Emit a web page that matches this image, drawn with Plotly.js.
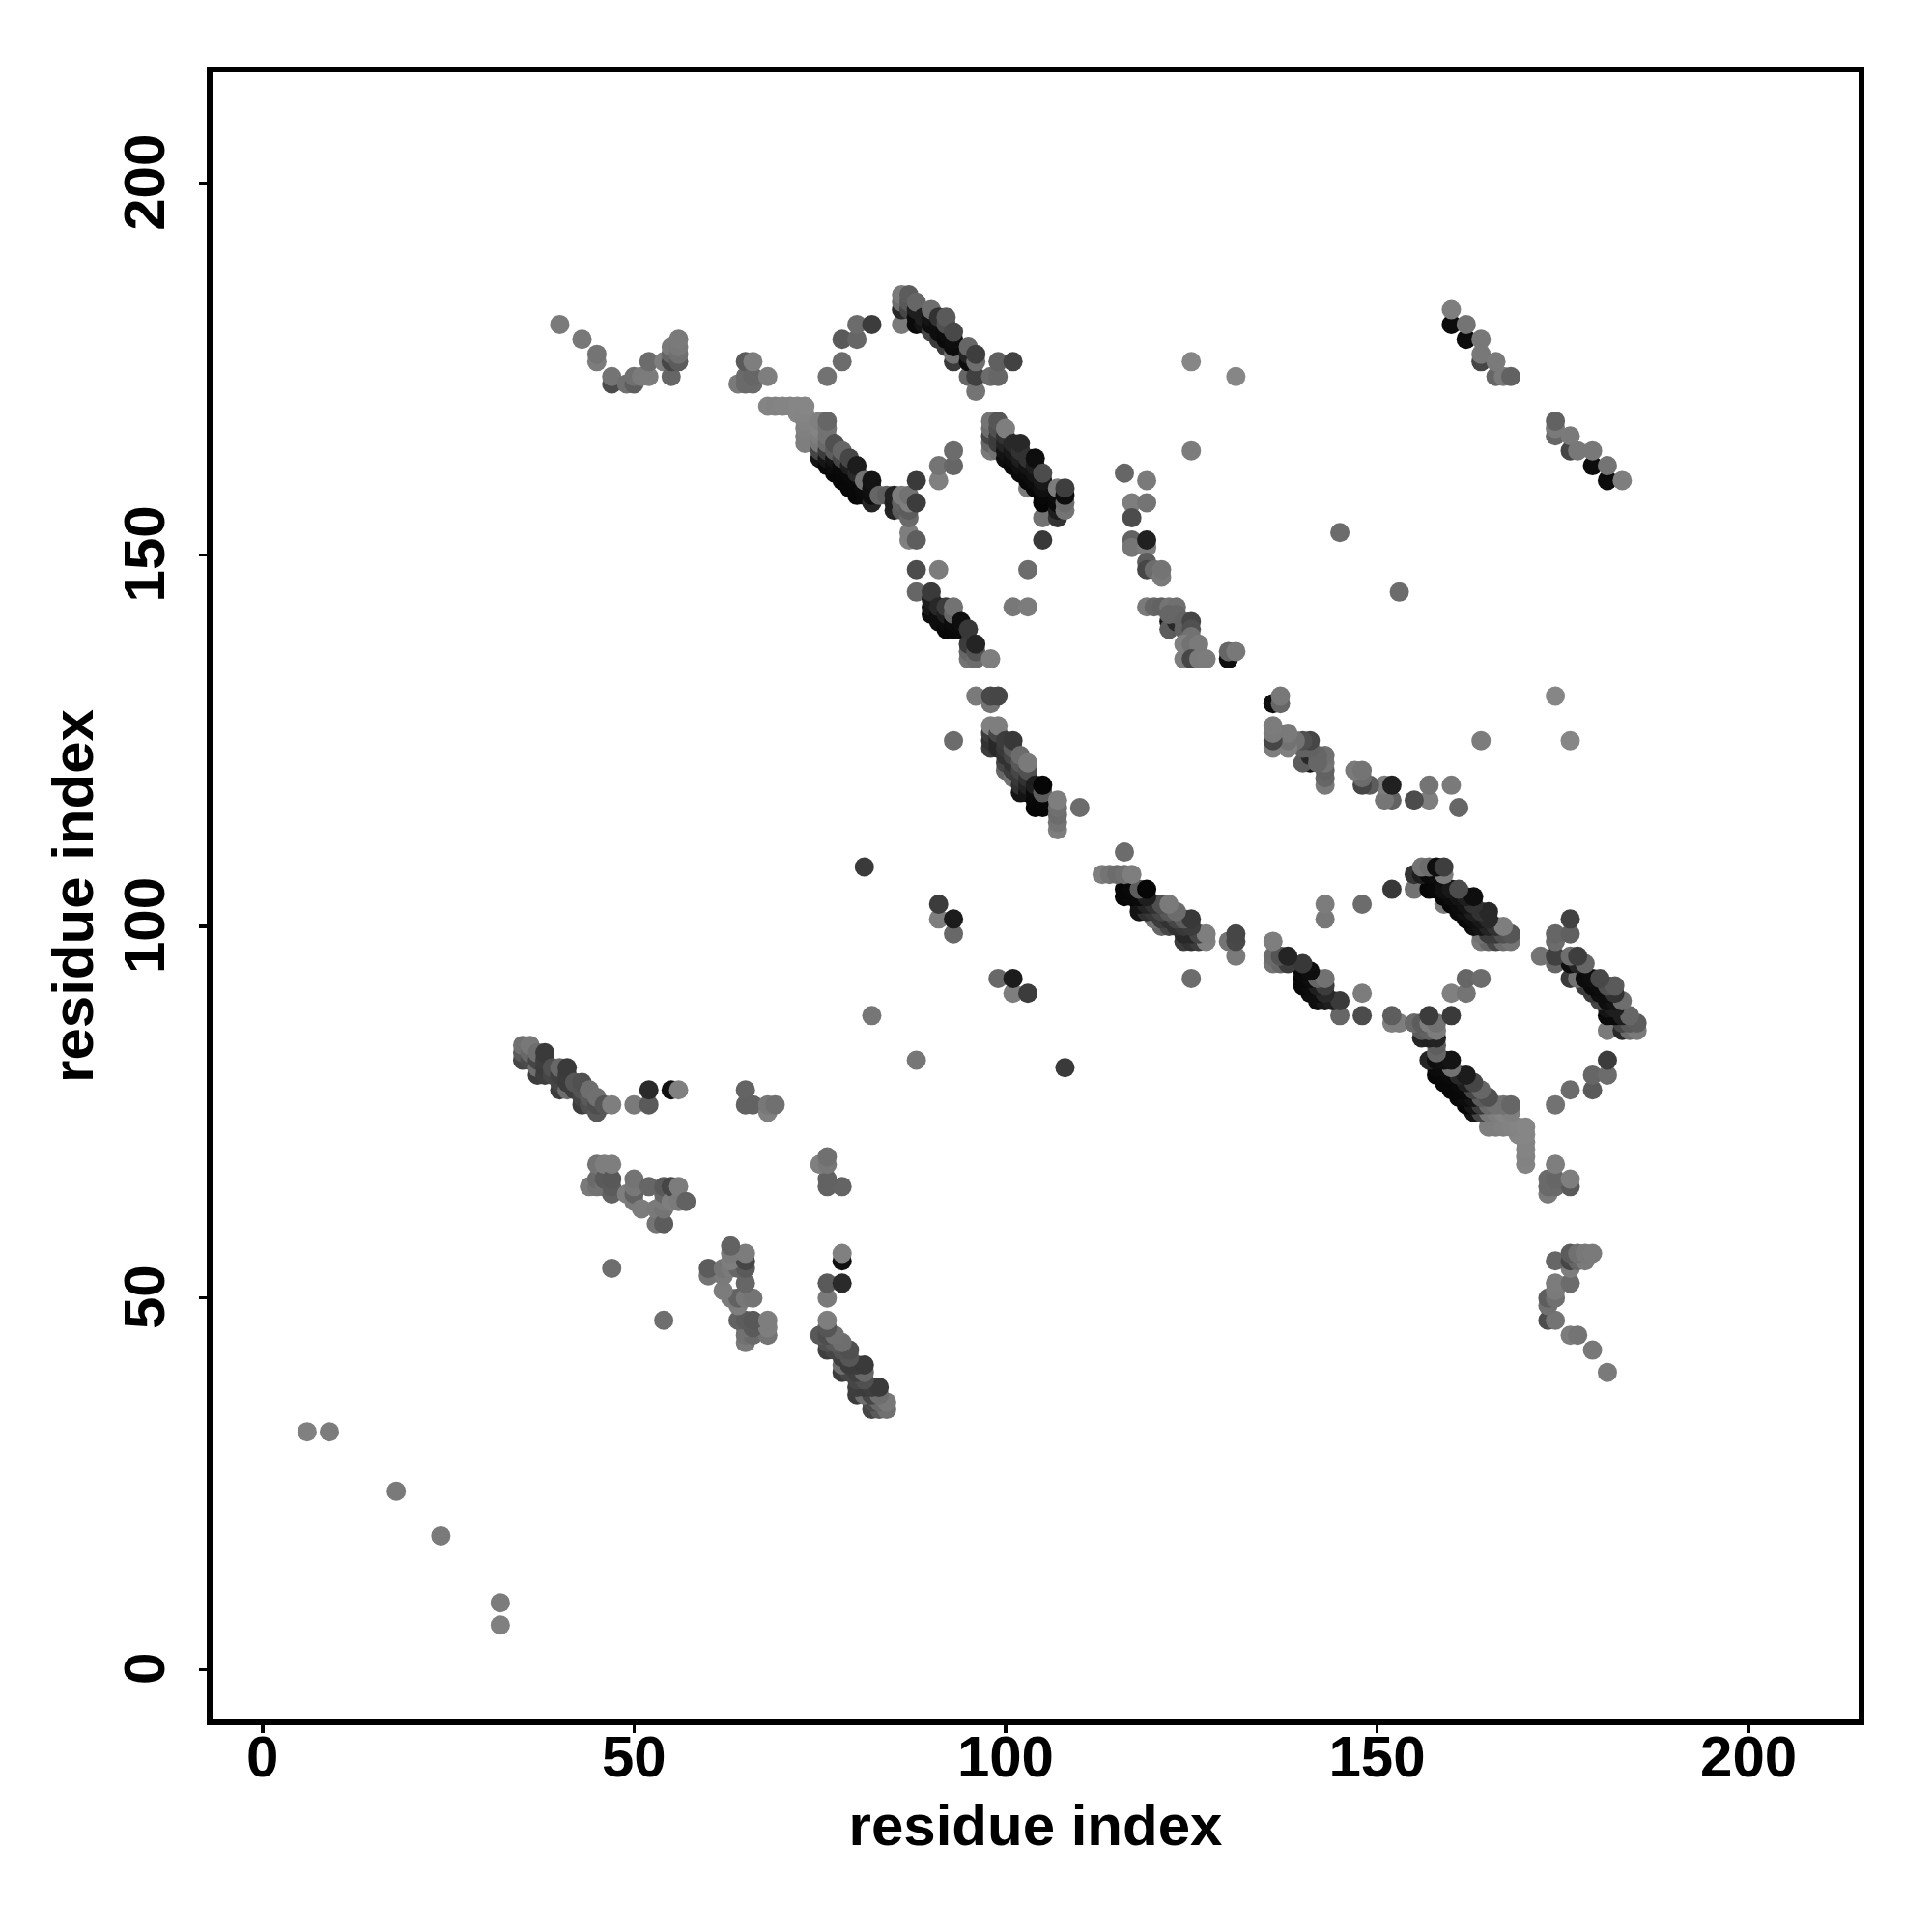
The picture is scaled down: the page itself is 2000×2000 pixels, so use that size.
<!DOCTYPE html>
<html><head><meta charset="utf-8"><script src="https://cdn.plot.ly/plotly-3.0.0.min.js"></script>
<style>html,body{margin:0;padding:0;background:#fff}</style></head><body><div id="chart" style="width:2000px;height:2000px"></div>
<script>
// every row: residue i, residue j (i<j), grey level of the contact
const tail=[[6,32,128],[9,32,124],[18,24,122]];
const band35=[[35,82,70],[35,83,90],[35,84,112],[36,82,76],[36,83,104],[36,84,120],[37,80,60],[37,81,110],[37,82,70],[37,83,110],[38,80,62],[38,81,60],[38,82,62],[38,83,58],[39,80,70],[39,81,80],[40,78,60],[40,79,70],[40,80,64],[40,81,104],[41,78,110],[41,79,60],[41,80,60],[41,81,58],[42,78,62],[42,79,86],[43,76,62],[43,77,70],[43,78,84],[43,79,80],[44,76,80],[44,77,90],[44,78,110],[45,75,88],[45,76,78],[45,77,112],[46,76,86],[47,76,126]];
const far76=[[50,76,122],[52,76,90],[52,78,42],[55,78,16],[56,78,128],[65,76,98],[65,78,100],[66,76,98],[68,75,128],[68,76,120],[69,76,112],[47,54,110]];
const cluster45=[[44,65,122],[45,65,114],[45,66,106],[45,68,116],[46,65,114],[46,66,90],[46,68,126],[47,64,98],[47,65,92],[47,66,88],[47,68,126],[49,64,126],[50,63,122],[50,64,98],[50,65,120],[50,66,116],[51,62,124],[52,65,102],[53,60,116],[53,62,122],[54,60,92],[54,62,116],[54,63,122],[54,64,102],[54,65,90],[55,63,126],[55,65,70],[56,63,122],[56,65,124],[57,63,98]];
const singles=[[81,108,58],[82,88,118],[91,101,126],[91,103,60],[93,99,104],[93,101,28],[93,125,108],[110,116,108],[125,164,124],[125,176,134],[131,174,134],[145,153,108]];
const arc173=[[40,181,122],[43,179,120],[45,176,124],[45,177,116],[47,173,76],[47,174,116],[49,173,112],[50,173,94],[50,174,112],[51,174,122],[52,174,124],[52,176,108],[54,176,126],[55,174,102],[55,176,70],[55,177,102],[55,178,122],[56,176,92],[56,177,112],[56,178,120],[56,179,122],[64,173,122],[65,173,106],[65,174,106],[65,176,90],[66,173,106],[66,174,102],[66,176,126],[68,174,126],[76,174,114],[78,176,108],[78,179,90],[80,179,102],[80,181,108],[82,181,60]];
const strand170=[[68,170,132],[69,170,130],[70,170,132],[71,170,132],[72,169,134],[72,170,134],[73,165,126],[73,166,126],[73,167,128],[73,168,130],[73,169,132],[73,170,134]];
const band75=[[75,163,20],[75,164,70],[75,165,120],[75,166,126],[75,167,132],[75,168,128],[76,162,8],[76,163,22],[76,164,60],[76,165,106],[76,166,114],[76,167,114],[76,168,102],[77,161,8],[77,162,12],[77,163,20],[77,164,92],[77,165,80],[78,160,8],[78,161,8],[78,162,10],[78,163,70],[78,164,102],[79,159,8],[79,160,8],[79,161,10],[79,162,30],[79,163,70],[80,158,8],[80,159,8],[80,160,10],[80,161,40],[80,162,28],[81,158,10],[81,159,12],[81,160,114],[82,157,36],[82,158,14],[82,159,16],[82,160,20],[83,158,102],[84,158,94],[85,156,36],[85,157,32],[85,158,34],[86,156,92],[86,157,98],[86,158,124],[87,152,128],[87,153,126],[87,155,106],[87,156,92],[87,157,126],[87,158,114],[88,152,94],[88,148,76],[88,145,102],[88,157,60],[88,160,58],[91,148,124],[91,160,128],[91,162,116],[93,162,102],[93,164,108]];
const band90=[[90,142,14],[90,143,24],[90,144,30],[90,145,58],[91,141,14],[91,142,14],[91,143,40],[92,140,8],[92,141,12],[92,142,30],[92,143,60],[93,140,8],[93,141,12],[93,142,102],[93,143,114],[94,140,10],[94,141,14],[95,136,116],[95,137,102],[95,138,60],[95,140,56],[96,136,108],[96,137,84],[96,138,36],[98,136,126],[96,131,122],[98,130,116],[98,131,72],[99,131,70],[101,143,120],[103,143,124],[103,148,108],[105,152,56]];
const band98=[[98,124,60],[98,125,50],[98,126,60],[98,127,128],[99,124,40],[99,125,40],[99,126,70],[99,127,126],[100,121,102],[100,122,70],[100,123,50],[100,124,56],[100,125,60],[101,120,114],[101,121,60],[101,122,50],[101,123,70],[101,124,92],[101,125,56],[102,118,20],[102,119,48],[102,120,56],[102,121,70],[102,122,88],[102,123,108],[103,118,20],[103,119,36],[103,120,50],[103,121,80],[103,122,122],[104,116,6],[104,117,8],[104,118,10],[104,119,30],[105,116,6],[105,117,8],[105,118,92],[105,119,6],[107,113,126],[107,114,116],[107,115,108],[107,116,112],[107,117,126]];
const band100=[[98,164,122],[98,165,102],[98,166,70],[98,167,108],[98,168,116],[99,164,114],[99,165,60],[99,166,60],[99,167,80],[99,168,86],[100,163,14],[100,164,20],[100,165,36],[100,166,50],[100,167,126],[101,162,8],[101,163,14],[101,164,24],[101,165,40],[102,161,10],[102,162,16],[102,163,30],[102,164,50],[102,165,40],[103,159,124],[103,160,8],[103,161,12],[103,162,20],[103,163,50],[104,159,8],[104,160,12],[104,161,20],[104,162,30],[104,163,14],[105,155,114],[105,157,6],[105,158,8],[105,159,16],[105,160,24],[105,161,76],[107,155,52],[107,156,30],[107,157,10],[107,158,12],[107,159,124],[108,156,116],[108,157,108],[108,158,14],[108,159,62]];
const band119=[[116,161,102],[119,160,122],[117,157,126],[119,157,116],[117,155,76],[117,152,98],[117,151,118],[119,151,126],[119,152,32],[119,149,92],[119,148,70],[120,148,108],[121,147,122],[121,148,116],[119,143,122],[120,143,102],[121,143,98],[122,143,116],[123,143,112],[122,141,20],[122,140,92],[123,141,40],[122,142,102],[123,142,102],[124,141,98],[124,140,98],[125,141,70],[125,140,80],[125,139,114],[124,138,128],[124,136,126],[125,138,114],[126,138,122],[125,136,70],[126,136,122],[127,136,124],[130,136,14],[130,137,102],[131,137,120]];
const band85=[[86,181,122],[86,183,40],[86,184,108],[86,185,122],[87,183,70],[87,184,88],[87,185,92],[88,181,10],[88,182,10],[88,183,30],[88,184,102],[89,181,20],[89,182,30],[90,180,70],[90,181,14],[90,182,20],[90,183,110],[91,179,60],[91,180,14],[91,181,14],[91,182,50],[92,178,60],[92,179,10],[92,180,12],[92,181,80],[92,182,90],[93,176,58],[93,177,114],[93,178,12],[93,179,14],[93,180,72],[95,174,102],[95,176,14],[95,177,36],[95,178,102],[96,172,116],[96,174,64],[96,176,110],[96,177,62],[98,174,108],[99,174,102],[99,176,96],[101,176,66]];
const band160=[[160,181,12],[160,183,126],[162,179,12],[162,181,116],[164,176,70],[164,177,120],[164,179,120],[166,174,102],[166,176,122],[167,174,122],[168,174,98]];
const tickValues=[0,50,100,150,200];
const axisLabel='residue index';

const rows=[tail,arc173,cluster45,band35,far76,strand170,band75,band90,band98,band100,band85,band119,band160,singles].flat();
const iVals=rows.map(r=>r[0]), jVals=rows.map(r=>r[1]);
const colours=rows.map(r=>`rgb(${r[2]},${r[2]},${r[2]})`);
const mk={size:20,color:colours,line:{width:0},opacity:1};
const font={family:'"Liberation Sans",Arial,sans-serif',size:60,color:'#000',weight:700};
const ax={range:[-7.12,215.2],tickvals:tickValues,ticktext:tickValues.map(String),ticks:'outside',ticklen:10,tickwidth:3.5,tickcolor:'#000',showgrid:false,zeroline:false,showline:false,tickfont:font,automargin:false};
Plotly.newPlot('chart',[
 {type:'scatter',mode:'markers',x:iVals,y:jVals,marker:mk,hoverinfo:'skip',showlegend:false},
 {type:'scatter',mode:'markers',x:jVals,y:iVals,marker:mk,hoverinfo:'skip',showlegend:false}
],{
 width:2000,height:2000,margin:{l:216.5,r:73,t:72,b:216.5},paper_bgcolor:'#fff',plot_bgcolor:'#fff',showlegend:false,
 xaxis:{...ax,ticklabelstandoff:-27,title:{text:axisLabel,font:font,standoff:16}},
 yaxis:{...ax,range:[-7.1,215.3],tickangle:-90,ticklabelstandoff:12,ticklabelshift:8,title:{text:axisLabel,font:font,standoff:0}},
 shapes:[{type:'rect',xref:'paper',yref:'paper',x0:0,x1:1,y0:0,y1:1,line:{color:'#000',width:6},fillcolor:'rgba(0,0,0,0)'}]
},{staticPlot:true,displayModeBar:false});
</script></body></html>
